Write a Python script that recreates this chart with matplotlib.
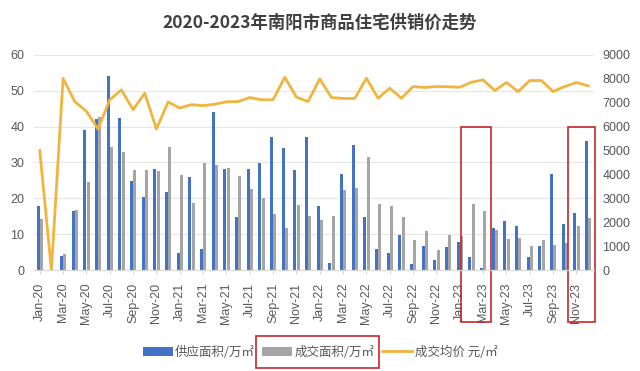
import matplotlib
matplotlib.use('Agg')
import matplotlib.pyplot as plt
import numpy as np
from matplotlib.patches import Rectangle

plt.rcParams['font.family'] = ['Liberation Sans', 'Noto Sans CJK SC', 'DejaVu Sans']

# months Jan-20 .. Dec-23
months = [f'{m}-{y}' for y in ['20', '21', '22', '23']
          for m in ['Jan', 'Feb', 'Mar', 'Apr', 'May', 'Jun',
                    'Jul', 'Aug', 'Sep', 'Oct', 'Nov', 'Dec']]

# 供应面积 (万㎡)
supply = [18, 0, 3.8, 16.5, 39, 42, 54, 42.4, 24.9, 20.4, 28.3, 21.9,
          4.8, 25.9, 5.8, 44, 28.2, 14.9, 28.2, 29.9, 37, 34, 28, 37,
          18, 1.9, 26.9, 34.9, 14.9, 5.8, 4.8, 9.8, 1.7, 6.8, 2.9, 6.4,
          7.7, 3.7, 0.6, 11.7, 13.8, 12.3, 3.7, 6.6, 26.8, 12.8, 15.8, 35.9]

# 成交面积 (万㎡)
deal = [14.1, 0, 4.4, 16.7, 24.5, 42.6, 34.3, 33, 28, 28, 27.6, 34.3,
        26.4, 18.8, 29.9, 29.2, 28.6, 26.2, 22.6, 20.2, 15.5, 11.7, 18.1, 15.1,
        13.9, 15.1, 22.3, 22.9, 31.5, 18.5, 17.9, 14.7, 8.5, 10.9, 5.6, 9.7,
        9.5, 18.4, 16.5, 11.1, 8.7, 8.9, 6.8, 8.3, 6.9, 7.5, 12.3, 14.6]

# 成交均价 (元/㎡)
price = [5000, 0, 8020, 7050, 6640, 5900, 7125, 7540, 6710, 7400, 5900, 7030,
         6780, 6920, 6880, 6940, 7040, 7050, 7220, 7125, 7125, 8070, 7235, 7050,
         8000, 7220, 7180, 7180, 8025, 7190, 7610, 7190, 7680, 7640, 7680, 7670,
         7650, 7860, 7960, 7510, 7850, 7470, 7930, 7930, 7470, 7680, 7850, 7710]

blue = '#4472C4'
gray = '#A5A5A5'
gold = '#F0B53F'
txt = '#595959'
red = '#C8262B'

fig = plt.figure(figsize=(6.4, 3.71), dpi=100)
ax1 = fig.add_axes([0.053, 0.2722, 0.875, 0.5796])
ax2 = ax1.twinx()

x = np.arange(len(months))
w = 0.26
ax1.bar(x - 0.14, supply, width=w, color=blue, label='供应面积/万㎡', zorder=2)
ax1.bar(x + 0.14, deal, width=w, color=gray, label='成交面积/万㎡', zorder=2)
ax2.plot(x, price, color=gold, linewidth=2, label='成交均价 元/㎡', zorder=3)

ax1.set_xlim(-0.5, len(months) - 0.5)
ax1.set_ylim(0, 60)
ax2.set_ylim(0, 9000)
ax1.set_yticks(range(0, 61, 10))
ax2.set_yticks(range(0, 9001, 1000))
ax1.set_xticks(x[::2])
ax1.set_xticklabels(months[::2], rotation=90)

ax1.grid(axis='y', color='#E6E6E6', linewidth=0.8, zorder=0)
ax1.set_axisbelow(True)
for a in (ax1, ax2):
    for s in ['top', 'left', 'right']:
        a.spines[s].set_visible(False)
    a.spines['bottom'].set_color('#D9D9D9')
ax1.tick_params(axis='y', length=0, pad=7, labelsize=9, labelcolor=txt)
ax2.tick_params(axis='y', length=0, pad=6, labelsize=9, labelcolor=txt)
ax1.tick_params(axis='x', length=3, color='#D9D9D9', pad=6, labelsize=9, labelcolor=txt)

fig.text(0.5, 0.938, '2020-2023年南阳市商品住宅供销价走势', ha='center', va='center',
         fontsize=12.5, fontweight='bold', color='#404040',
         family=['Noto Sans CJK SC', 'DejaVu Sans'])

h1, l1 = ax1.get_legend_handles_labels()
h2, l2 = ax2.get_legend_handles_labels()
leg = fig.legend(h1 + h2, l1 + l2, loc='center', bbox_to_anchor=(0.5, 0.051), ncol=3,
                 frameon=False, handlelength=2.4, handletextpad=0.2, columnspacing=0.6,
                 prop={'family': ['Noto Sans CJK SC', 'DejaVu Sans'], 'size': 9})
for t in leg.get_texts():
    t.set_color(txt)

# red highlight boxes
ax1.add_patch(Rectangle((36.1, -14.5), 2.55, 54.5, fill=False, edgecolor=red,
                        linewidth=1.2, clip_on=False, zorder=5))
ax1.add_patch(Rectangle((45.3, -14.5), 2.25, 54.5, fill=False, edgecolor=red,
                        linewidth=1.2, clip_on=False, zorder=5))
fig.add_artist(Rectangle((0.4, 0.009), 0.192, 0.086, transform=fig.transFigure,
                         fill=False, edgecolor=red, linewidth=1.2))

fig.savefig('out.png', dpi=100, facecolor='white')
